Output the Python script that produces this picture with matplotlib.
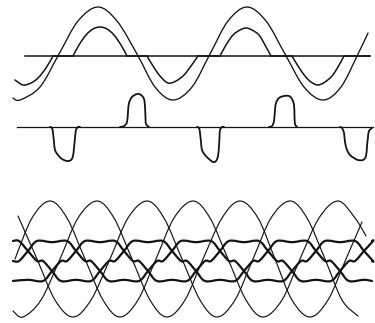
import numpy as np
import matplotlib
matplotlib.use("Agg")
import matplotlib.pyplot as plt
from matplotlib.path import Path
from matplotlib.patches import PathPatch

# ---------------- data (pixel-like units) ----------------
# top panel: reference line
ref_line_x = [25, 370]
ref_line_y = [56, 56]

# large sine
big_x = [13, 20, 40, 59, 78, 98, 117, 137, 155, 173, 192, 210, 228, 247, 266, 285, 304, 323, 341, 358, 368]
big_y = [98, 100, 87, 54, 21, 7, 21, 54, 87, 100, 87, 54, 21, 7, 21, 54, 87, 100, 87, 54, 33]

# small sine with dwell on the line
small_x = [15, 23, 31, 38, 46, 53, 73, 79, 86, 93, 100, 107, 114, 121, 127, 147, 153, 160, 168,
           176, 184, 191, 198, 220, 226, 233, 240, 246, 252, 259, 265, 271, 292, 298, 305, 311,
           318, 325, 332, 338, 344, 370]
small_y = [80, 85, 83, 78, 68, 56, 56, 45, 35, 29, 27, 29, 35, 45, 56, 56, 66, 76, 83,
           81, 75, 66, 56, 56, 45, 35, 30, 28, 30, 35, 45, 56, 56, 66, 76, 82,
           85, 82, 76, 67, 56, 56]

# pulse train
pulse_base_x = [17, 373]
pulse_base_y = [127, 127]
neg1_x = [50, 52, 53, 54, 55, 58, 62, 67, 71, 73, 74, 75, 76, 78, 80]
neg1_y = [127, 128, 133, 142, 150, 155, 159, 161, 160, 156, 148, 138, 130, 127, 127]
neg2_x = [197, 199, 200, 201, 202, 205, 209, 213, 216, 218, 219, 219.5, 220, 222, 224]
neg2_y = [127, 128, 133, 142, 150, 155, 159, 162, 161, 156, 146, 137, 130, 127, 127]
neg3_x = [340, 342, 344, 345, 347, 350, 354, 358, 363, 366, 367, 368, 369, 372]
neg3_y = [127, 128, 133, 142, 150, 155, 158, 160, 160, 156, 146, 137, 131, 128]
pos1_x = [120, 124, 127, 128, 129, 132, 137, 141, 144, 145, 145.5, 146, 149]
pos1_y = [127, 126, 122, 112, 103, 97, 94, 95, 99, 107, 118, 124, 127]
pos2_x = [269, 272, 274, 275, 276, 279, 284, 289, 292, 294, 294.5, 295, 297]
pos2_y = [127, 126, 121, 110, 103, 98, 96, 96, 99, 105, 116, 124, 127]

# bottom panel: three thin sines
thinA_x = [15, 32, 50, 67, 85, 103, 120, 138, 156, 174, 193, 210, 228, 246, 263, 282, 300, 319, 338, 355, 366]
thinA_y = [259, 218, 201, 218, 259, 300, 317, 300, 259, 218, 201, 218, 259, 300, 317, 300, 259, 218, 201, 218, 236]
thinB_x = [13, 23, 41, 60, 78, 97, 114, 132, 150, 167, 185, 203, 222, 240, 258, 275, 292, 310, 328, 346, 362]
thinB_y = [311, 317, 300, 259, 218, 201, 218, 259, 300, 317, 300, 259, 218, 201, 218, 259, 300, 317, 300, 259, 222]
thinC_x = [18, 37, 55, 73, 91, 110, 128, 147, 164, 182, 200, 217, 235, 253, 271, 290, 307, 325, 342, 358]
thinC_y = [216, 259, 300, 317, 300, 259, 218, 201, 218, 259, 300, 317, 300, 259, 218, 201, 218, 259, 300, 316]

# bottom panel: three thick stepped waves (levels per interval between switching instants)
switch_x = [28, 52, 76, 100, 124, 148, 172, 196, 220, 244, 268, 292, 316, 340, 364]
level_top, level_mid, level_bot = 241, 261, 281
T, M, B = level_top, level_mid, level_bot
thickA_levels = [M, T, T, M, B, B, M, T, T, M, B, B, M, T, T, M]
thickB_levels = [B, B, M, T, T, M, B, B, M, T, T, M, B, B, M, T]
thickC_levels = [T, M, B, B, M, T, T, M, B, B, M, T, T, M, B, B]
thick_start, thick_end = 13, 372

INK = "#141414"


# ---------------- helpers ----------------
def smooth_path(xs, ys):
    pts = np.column_stack([xs, ys]).astype(float)
    n = len(pts)
    verts = [pts[0]]
    codes = [Path.MOVETO]
    for i in range(n - 1):
        p0 = pts[i - 1] if i > 0 else pts[i]
        p1, p2 = pts[i], pts[i + 1]
        p3 = pts[i + 2] if i + 2 < n else pts[i + 1]
        c1 = p1 + (p2 - p0) / 6.0
        c2 = p2 - (p3 - p1) / 6.0
        verts += [c1, c2, p2]
        codes += [Path.CURVE4] * 3
    return Path(verts, codes)


def draw_smooth(ax, xs, ys, lw, split_flat=False):
    xs = list(xs)
    ys = list(ys)
    pieces = []
    if split_flat:
        start = 0
        for i in range(len(xs) - 1):
            if ys[i] == ys[i + 1] and xs[i + 1] - xs[i] >= 12:
                if i > start:
                    pieces.append((xs[start:i + 1], ys[start:i + 1]))
                ax.plot([xs[i], xs[i + 1]], [ys[i], ys[i + 1]], color=INK, lw=lw,
                        solid_capstyle="round")
                start = i + 1
        if start < len(xs) - 1:
            pieces.append((xs[start:], ys[start:]))
    else:
        pieces.append((xs, ys))
    for px, py in pieces:
        ax.add_patch(PathPatch(smooth_path(px, py), fill=False, edgecolor=INK, lw=lw,
                               capstyle="round", joinstyle="round"))


def stepped_wave(levels, switches, x0, x1, w=9.0):
    xs = [x0]
    ys = [levels[0]]
    for k, b in enumerate(switches):
        l1, l2 = levels[k], levels[k + 1]
        if l1 != l2:
            xs += [b - w, b, b + w]
            ys += [l1, (l1 + l2) / 2.0, l2]
        else:
            xs.append(b)
            ys.append(l1 + (level_mid - l1) * 0.06)
    xs.append(x1)
    ys.append(levels[-1])
    return xs, ys


# ---------------- figure ----------------
fig = plt.figure(figsize=(3.75, 3.23), dpi=100)
ax = fig.add_axes([0, 0, 1, 1])
ax.set_xlim(0, 375)
ax.set_ylim(323, 0)
ax.axis("off")

# top panel
ax.plot(ref_line_x, ref_line_y, color=INK, lw=1.1)
draw_smooth(ax, big_x, big_y, 0.95)
draw_smooth(ax, small_x, small_y, 1.1, split_flat=True)

# pulses
ax.plot(pulse_base_x, pulse_base_y, color=INK, lw=0.9)
for px, py in [(neg1_x, neg1_y), (neg2_x, neg2_y), (neg3_x, neg3_y),
               (pos1_x, pos1_y), (pos2_x, pos2_y)]:
    draw_smooth(ax, px, py, 1.3)

# bottom panel
for px, py in [(thinA_x, thinA_y), (thinB_x, thinB_y), (thinC_x, thinC_y)]:
    draw_smooth(ax, px, py, 0.85)
for lv in [thickA_levels, thickB_levels, thickC_levels]:
    sx, sy = stepped_wave(lv, switch_x, thick_start, thick_end)
    draw_smooth(ax, sx, sy, 1.6)

fig.savefig("out.png", dpi=100, facecolor="white")
